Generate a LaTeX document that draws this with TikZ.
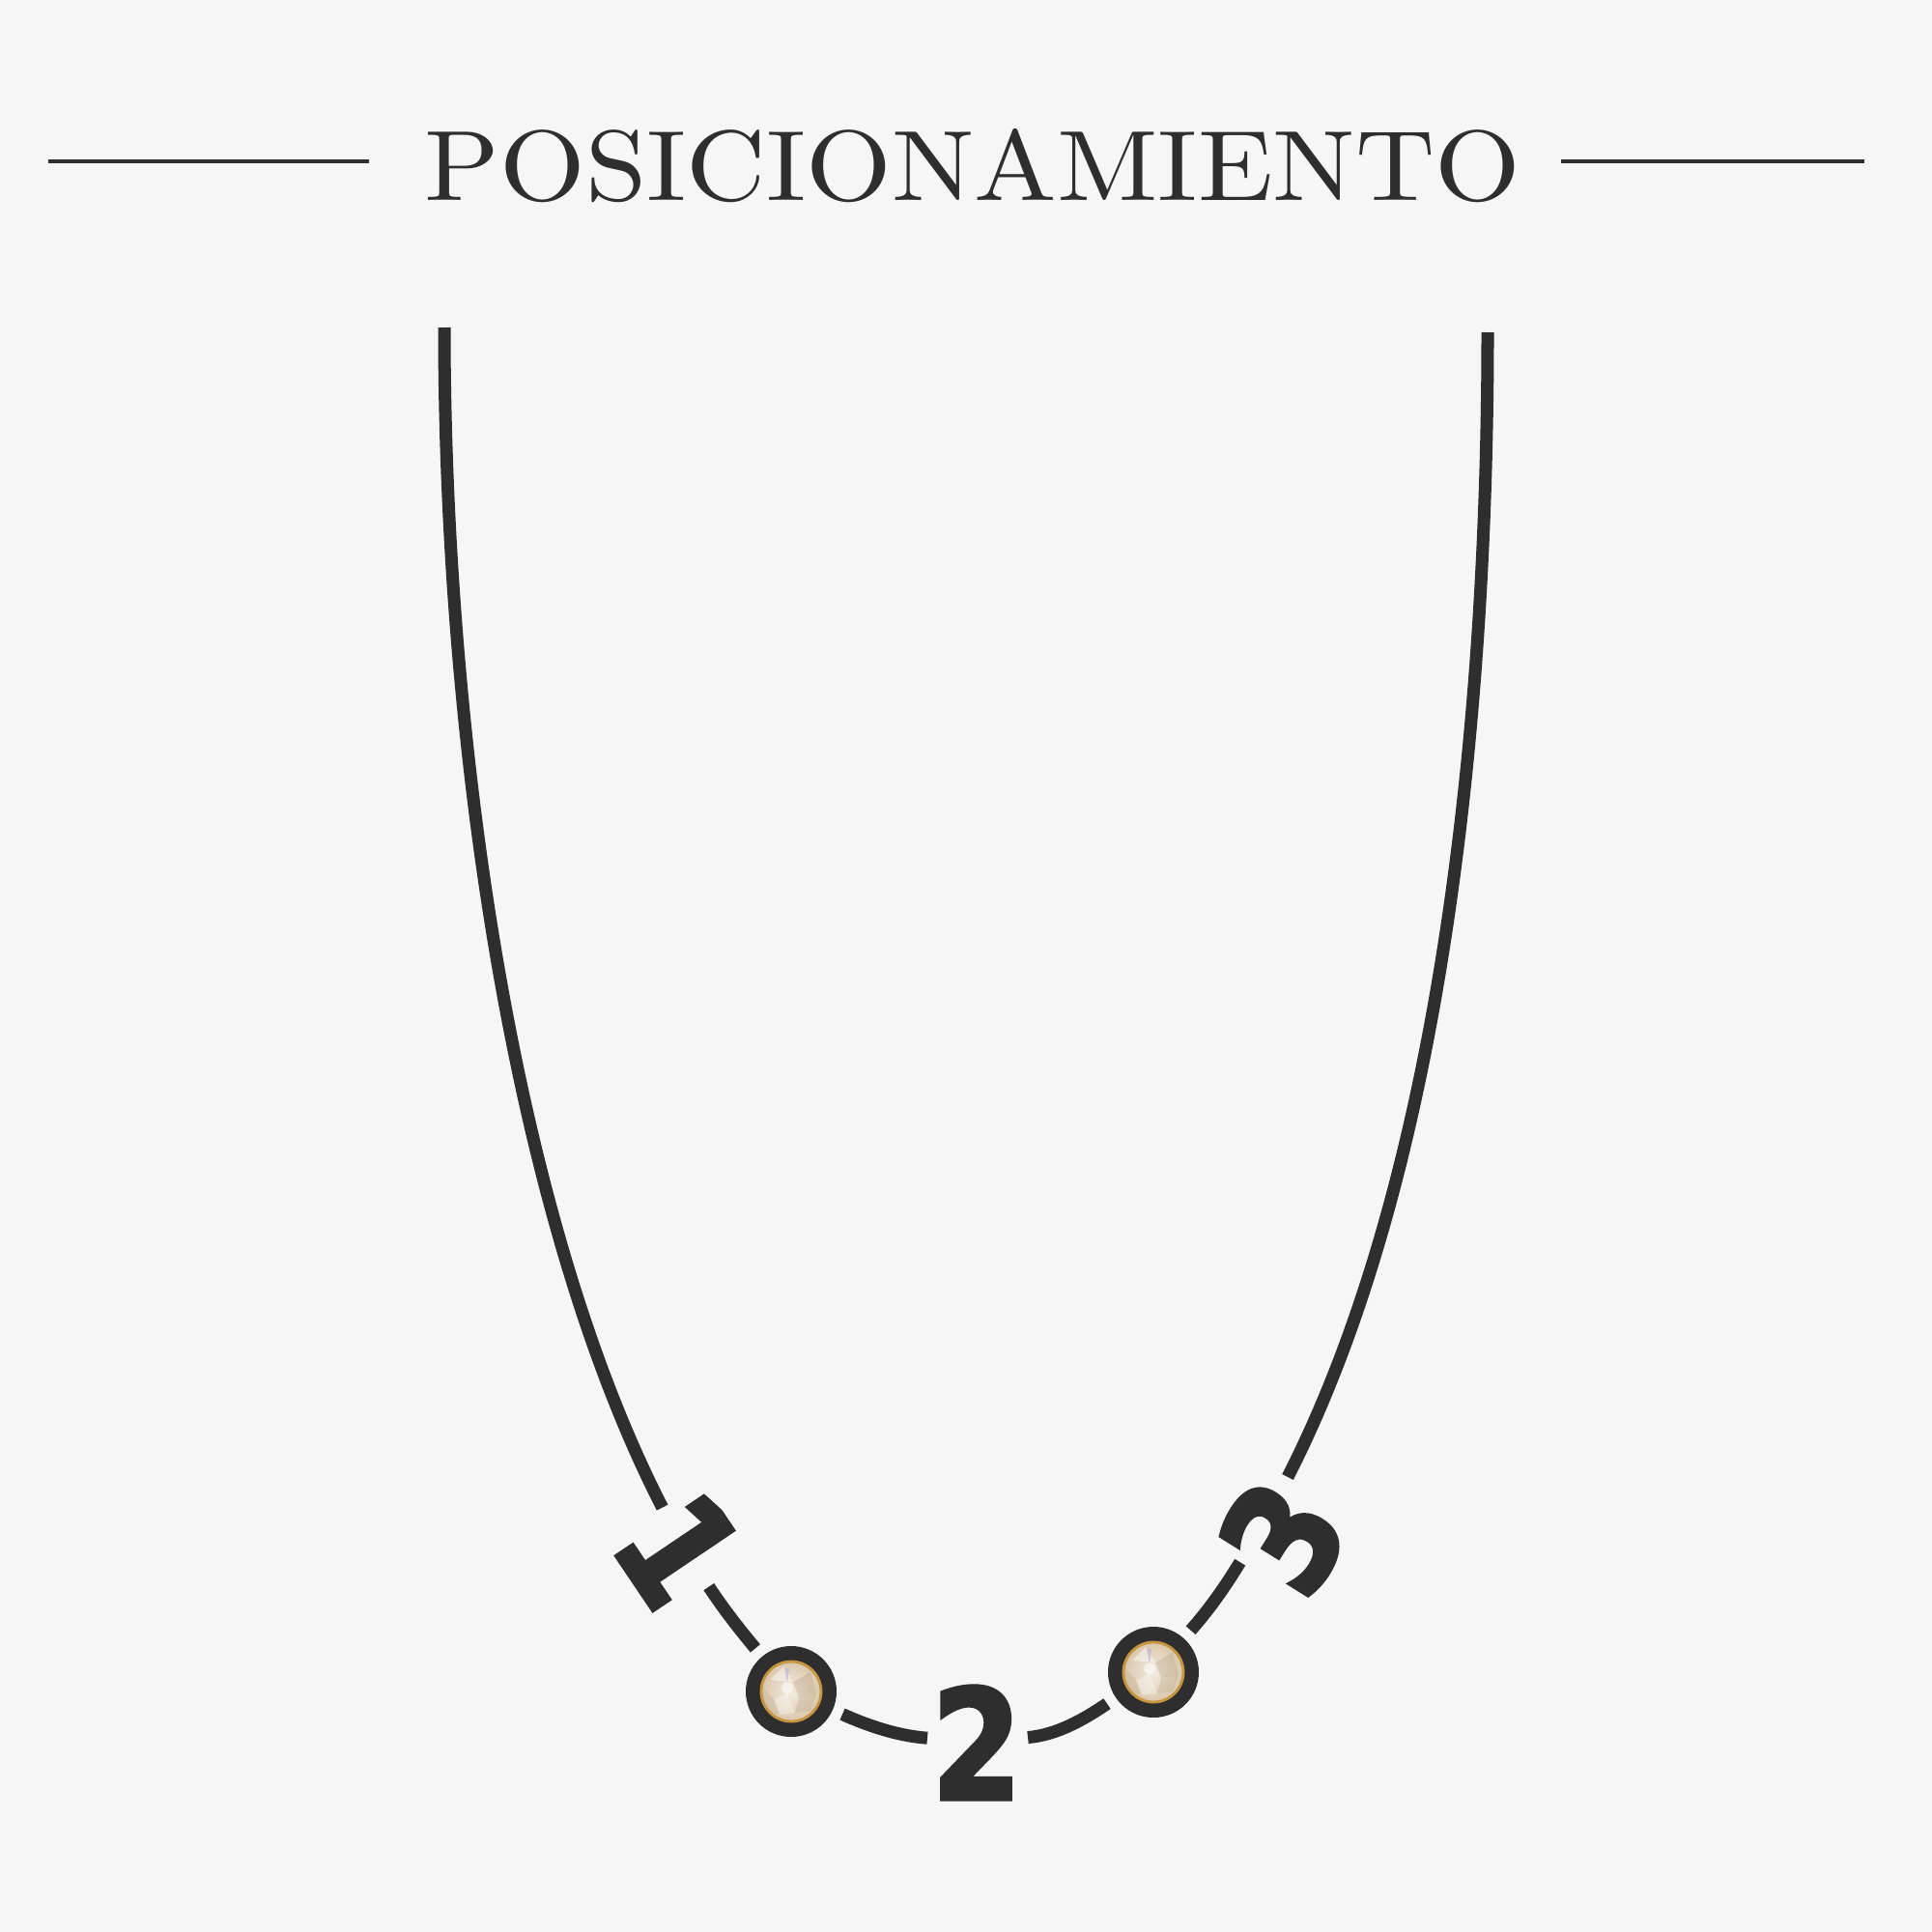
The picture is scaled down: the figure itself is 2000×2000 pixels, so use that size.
\documentclass[tikz,border=0pt]{standalone}
\usepackage{fontspec}
\usepackage{graphicx}
\newfontfamily\digitfont{DejaVu Sans}[BoldFeatures={FakeBold=2.5}]
\definecolor{bg}{HTML}{F6F6F6}
\definecolor{ink}{HTML}{2E2E2E}
\definecolor{gold}{HTML}{C8953F}
\definecolor{gemlight}{HTML}{F3ECE2}
\definecolor{gemmid}{HTML}{D9C6AA}
\definecolor{gemdark}{HTML}{B29A7C}
\definecolor{gemblue}{HTML}{B7B3D6}
\begin{document}
\begin{tikzpicture}[x=0.01cm,y=-0.01cm,
  chain/.style={draw=ink, line width=3.7pt},
  rule/.style={draw=ink, line width=1.1pt},
  gapnode/.style={shape=rectangle, inner sep=0pt, outer sep=0pt, minimum height=0.6cm},
  stonegap/.style={shape=circle, inner sep=0pt, outer sep=0pt, minimum size=1.16cm},
  digit/.style={inner sep=0pt, text=ink, font=\digitfont\bfseries\fontsize{45}{45}\selectfont},
  stone/.pic={
    \fill[ink] (0,0) circle[radius=47];
    \begin{scope}
      \clip (0,0) circle[radius=32];
      \shade[inner color=gemlight, outer color=gemmid] (0,0) circle[radius=32];
      \fill[white, opacity=.45] (-22,-12) -- (-8,-26) -- (2,-10) -- cycle;
      \fill[gemdark, opacity=.3] (2,-10) -- (20,-20) -- (26,2) -- (8,6) -- cycle;
      \fill[white, opacity=.35] (-18,8) -- (-4,2) -- (4,22) -- (-12,24) -- cycle;
      \fill[gemdark, opacity=.25] (8,6) -- (26,2) -- (20,20) -- (4,22) -- cycle;
      \fill[gemblue, opacity=.6] (-7,-24) -- (-2,-24) -- (-4,-8) -- cycle;
      \fill[white, opacity=.5] (-4,-4) circle[radius=6];
      \fill[gemdark, opacity=.2] (-30,-5) -- (-18,8) -- (-12,24) -- (-30,20) -- cycle;
    \end{scope}
    \draw[gold, line width=0.8pt] (0,0) circle[radius=31];
  }
]
\useasboundingbox (0,0) rectangle (2000,2000);
\fill[bg] (0,0) rectangle (2000,2000);

% title and rules
\node[anchor=base, inner sep=0pt, text=ink] (title) at (1007,208)
  {\resizebox{11.34cm}{0.74cm}{\addfontfeature{LetterSpace=5}POSICIONAMIENTO}};
\coordinate (rl1) at (50,167);
\coordinate (rl2) at (382,167);
\coordinate (rr1) at (1616,167);
\coordinate (rr2) at (1930,167);
\draw[rule] (rl1) -- (rl2);
\draw[rule] (rr1) -- (rr2);

% necklace anchors
\coordinate (tl) at (460,339);
\coordinate (tr) at (1540,344);
\node[gapnode, rotate=-57.5, minimum width=0.95cm] (g1) at (707.5,1603) {};
\node[stonegap] (c1) at (819,1751) {};
\node[gapnode, minimum width=1.04cm] (g2) at (1012,1803) {};
\node[stonegap] (c2) at (1194,1731) {};
\node[gapnode, rotate=60.4, minimum width=1.01cm] (g3) at (1310,1574) {};

% chain
\draw[chain] (tl) .. controls (460,739) and (525,1248) .. (g1);
\draw[chain] (g1) .. controls (750,1667) and (765,1686) .. (c1);
\draw[chain] (c1) .. controls (900,1787) and (930,1797) .. (g2);
\draw[chain] (g2) .. controls (1094,1796) and (1122,1780) .. (c2);
\draw[chain] (c2) .. controls (1251,1667) and (1268,1643) .. (g3);
\draw[chain] (g3) .. controls (1492,1218) and (1540,744) .. (tr);

% stones
\pic at (c1) {stone};
\pic at (c2) {stone};

% digits
\node[digit, rotate=-56, xscale=0.85] (n1) at (703,1604) {1};
\node[digit, xscale=0.85] (n2) at (1011,1804) {2};
\node[digit, rotate=58, xscale=0.85] (n3) at (1328,1591) {3};
\end{tikzpicture}
\end{document}
